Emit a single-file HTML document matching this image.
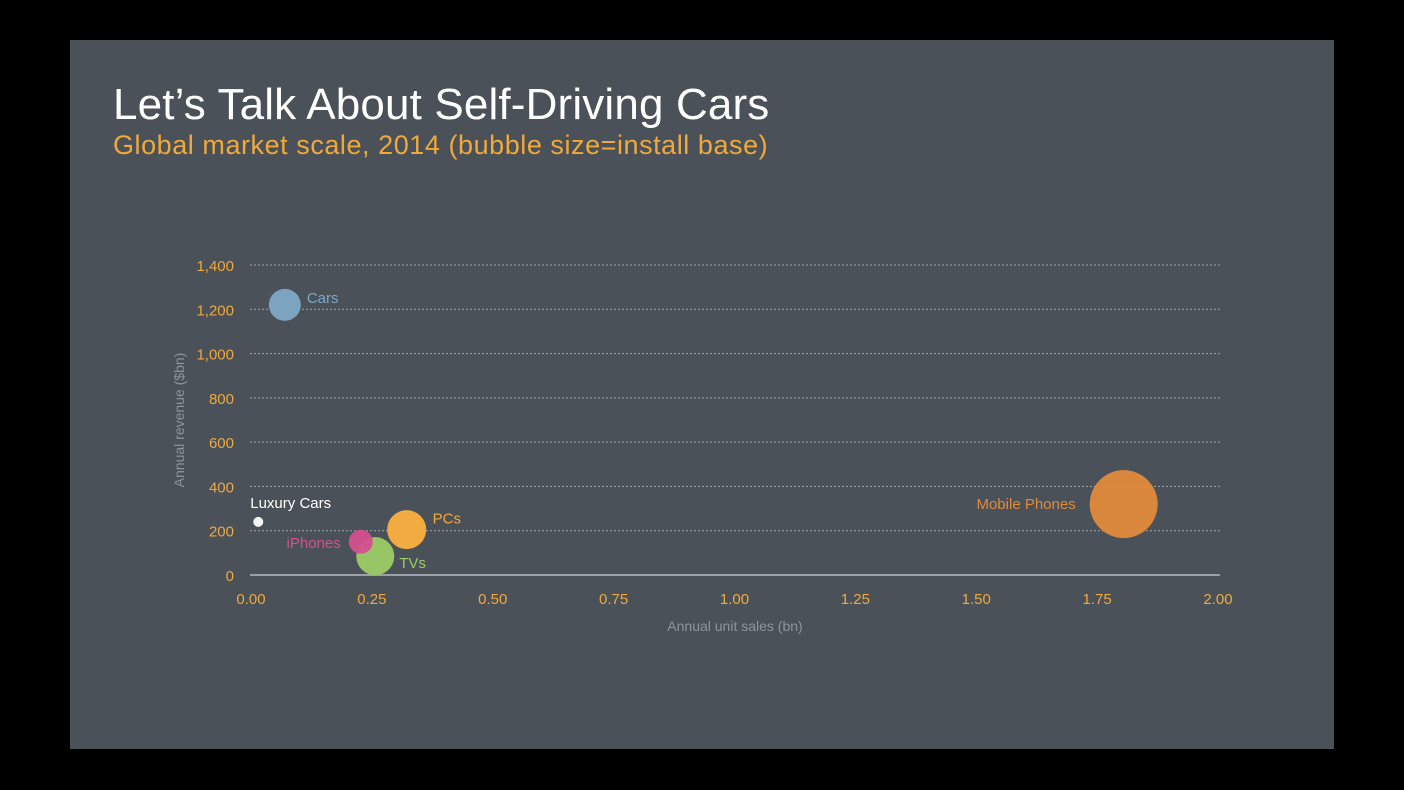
<!DOCTYPE html>
<html><head><meta charset="utf-8"><style>
html,body{margin:0;padding:0;background:#000;width:1404px;height:790px;overflow:hidden}
#slide{position:absolute;left:70px;top:40px;width:1264px;height:709px;background:#4a5158}
.t{position:absolute;font-family:"Liberation Sans",sans-serif;white-space:nowrap}
svg{position:absolute;left:0;top:0}
</style></head><body>
<div id="slide"></div>
<div class="t" style="left:113px;top:80px;font-size:44px;color:#fff;letter-spacing:0.15px">Let’s Talk About Self-Driving Cars</div>
<div class="t" style="left:113px;top:130px;font-size:27px;color:#f0a93c;letter-spacing:0.55px">Global market scale, 2014 (bubble size=install base)</div>
<svg id="chart" width="1404" height="790"></svg>
<script>
const categories=["Cars","Luxury Cars","TVs","iPhones","PCs","Mobile Phones"];
const unitSales=[0.07,0.015,0.257,0.227,0.322,1.805];
const revenue=[1220,240,85,150,205,320];
const radii=[16,5,19,12,19.5,34];
const colors=["#7ea8c6","#ffffff","#9ccc65","#d4508f","#fbb040","#e08a3c"];
const xTicks=[0,0.25,0.5,0.75,1,1.25,1.5,1.75,2];
const xTickLabels=["0.00","0.25","0.50","0.75","1.00","1.25","1.50","1.75","2.00"];
const yTicks=[0,200,400,600,800,1000,1200,1400];
const yTickLabels=["0","200","400","600","800","1,000","1,200","1,400"];
const NS="http://www.w3.org/2000/svg";
const svg=document.getElementById('chart');
const X=v=>251+v*483.5, Y=v=>575-v*(310/1400);
function mk(t,a){const e=document.createElementNS(NS,t);for(const k in a)e.setAttribute(k,a[k]);svg.appendChild(e);return e;}
const F='"Liberation Sans",sans-serif';
yTicks.forEach((v,i)=>{
 const l=mk('line',{x1:250,x2:1220,y1:Y(v),y2:Y(v),stroke:v===0?'#9aa0a6':'#a0a5aa','stroke-width':v===0?2:1,'stroke-dasharray':v===0?'':'2,2'});
 
 
 const t=mk('text',{x:234,y:Y(v)+6,'text-anchor':'end','font-family':F,'font-size':15,fill:'#f0a93c'});
 t.textContent=yTickLabels[i];
 
 
});
xTicks.forEach((v,i)=>{
 const t=mk('text',{x:X(v),y:604,'text-anchor':'middle','font-family':F,'font-size':15,fill:'#f0a93c'});
 t.textContent=xTickLabels[i];
 
 
});
const xt=mk('text',{x:735,y:631,'text-anchor':'middle','font-family':F,'font-size':14,fill:'#8e959c'});
xt.textContent='Annual unit sales (bn)';


const yt=mk('text',{x:0,y:0,'text-anchor':'middle','font-family':F,'font-size':14,fill:'#8e959c',transform:'translate(184,420) rotate(-90)'});
yt.textContent='Annual revenue ($bn)';


const labelPos=[[22,-2,'start'],[-8,-14,'start'],[24,12,'start'],[-20,6,'end'],[26,-6,'start'],[-48,5,'end']];
const labelFill=["#7ea8c6","#ffffff","#9ccc65","#d4508f","#f0a93c","#e08a3c"];
categories.forEach((c,i)=>{
 const cx=X(unitSales[i]),cy=Y(revenue[i]);
 const b=mk('circle',{cx:cx,cy:cy,r:radii[i],fill:colors[i],opacity:0.95});
 
 
 const p=labelPos[i];
 const t=mk('text',{x:cx+p[0],y:cy+p[1],'text-anchor':p[2],'font-family':F,'font-size':15,fill:labelFill[i]});
 t.textContent=c;
 
 
});
</script>
</body></html>
